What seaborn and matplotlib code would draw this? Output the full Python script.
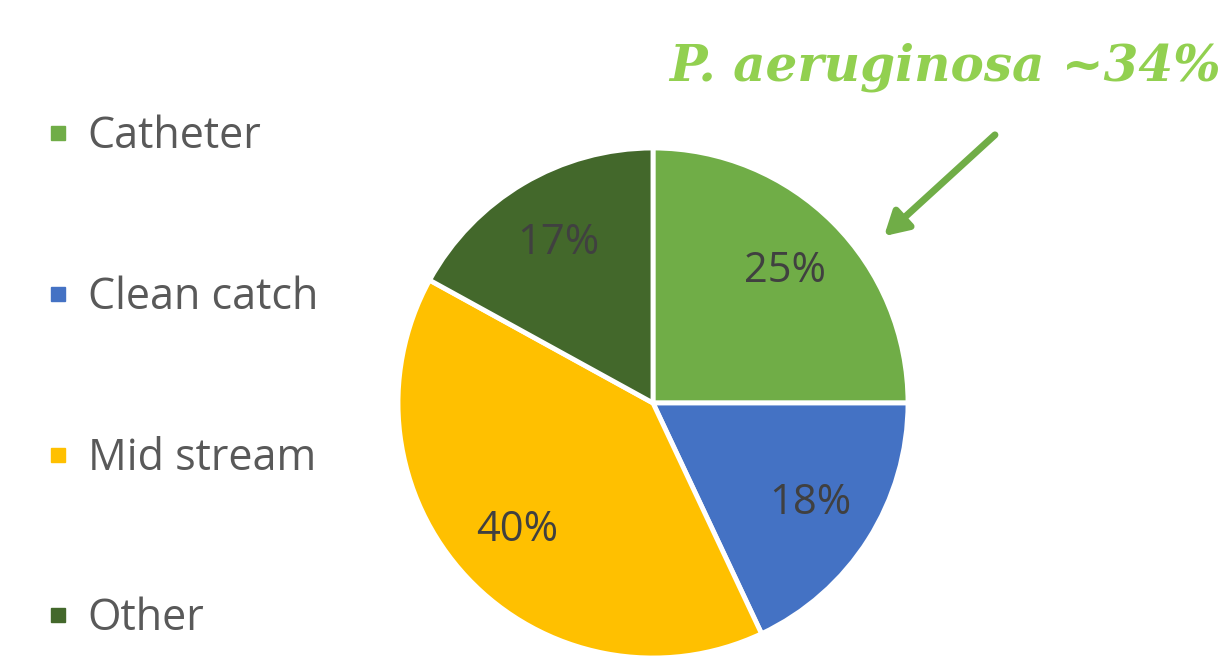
import matplotlib
matplotlib.use("Agg")
import matplotlib.pyplot as plt
from matplotlib.lines import Line2D
import seaborn as sns

categories = ["Catheter", "Clean catch", "Mid stream", "Other"]
values = [25, 18, 40, 17]
colors = ["#70AD47", "#4472C4", "#FFC000", "#43682B"]
annotation = "P. aeruginosa ~34%"

sns.set_theme(style="white")
plt.rcParams["font.family"] = ["Open Sans", "DejaVu Sans"]

W, H = 1221, 659
fig = plt.figure(figsize=(W / 100, H / 100), dpi=100)
cx, cy, r = 653, 659 - 403, 255
ax = fig.add_axes([(cx - r) / W, (cy - r) / H, 2 * r / W, 2 * r / H])

wedges, texts, autotexts = ax.pie(
    values, colors=colors, startangle=90, counterclock=False,
    autopct=lambda p: f"{p:.0f}%", pctdistance=0.73, radius=1,
    wedgeprops=dict(edgecolor="white", linewidth=3.5),
    textprops=dict(fontsize=30, color="#404040"))
ax.set_xlim(-1, 1)
ax.set_ylim(-1, 1)
ax.set_aspect("equal")
ax.axis("off")

handles = [Line2D([], [], linestyle="none", marker="s", markersize=10,
                  markerfacecolor=c, markeredgecolor=c) for c in colors]
leg = fig.legend(handles, categories, loc="upper left",
                 bbox_to_anchor=(8 / W, 1 - 76 / H), frameon=False,
                 fontsize=31, labelspacing=2.7, handlelength=0.5,
                 handletextpad=0.45, labelcolor="#595959")

fig.text(1221 / W, 1 - 80 / H, annotation, ha="right", va="baseline",
         fontsize=36, fontweight="bold", fontstyle="italic",
         family=["DejaVu Serif"], color="#92D050")

fig.patches.append(matplotlib.patches.FancyArrowPatch(
    (997 / W, 1 - 133 / H), (882 / W, 1 - 238 / H),
    transform=fig.transFigure, arrowstyle="-|>,head_length=14,head_width=8",
    mutation_scale=1, color="#70AD47", linewidth=5))

fig.savefig("out.png", dpi=100)
